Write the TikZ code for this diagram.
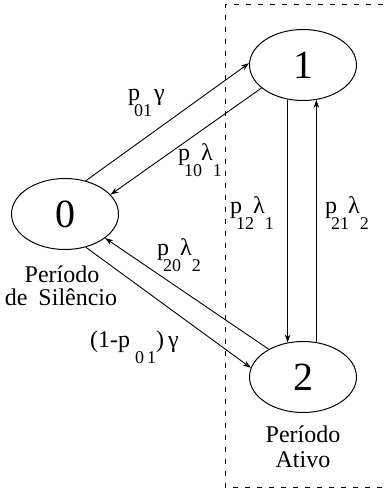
\documentclass[tikz,border=0pt]{standalone}
\usepackage{fontspec}
\setmainfont{Liberation Serif}
\usetikzlibrary{shapes.geometric,arrows.meta}
\newcommand{\sbx}[1]{\raisebox{-16pt}{\fontsize{18}{18}\selectfont #1}}
\begin{document}
\begin{tikzpicture}[x=1pt,y=-1pt,
  state/.style={draw, ellipse, line width=1pt, minimum width=107pt, minimum height=71pt, inner sep=0pt, font=\fontsize{40}{40}\selectfont},
  tr/.style={-{Stealth[length=8pt,width=5.5pt]}, line width=0.9pt},
  lab/.style={font=\fontsize{24}{24}\selectfont, inner sep=0pt, anchor=base west},
  captext/.style={font=\fontsize{24}{24}\selectfont, inner sep=0pt, anchor=base},
  regionbox/.style={dash pattern=on 5pt off 7pt, line width=1pt}]
\useasboundingbox (0,0) rectangle (383,492);
% dashed region
\draw[regionbox] (383,5) -- (225,5) -- (225,487) -- (383,487);
% states
\node[state] (n0) at (65,214) {0};
\node[state] (n1) at (303,65) {1};
\node[state] (n2) at (303,377) {2};
% captions
\node[captext] (c0a) at (62,282) {Período};
\node[captext] (c0b) at (61,305) {de\hspace{5pt} Silêncio};
\node[captext] (c2a) at (303,442) {Período};
\node[captext] (c2b) at (303,467) {Ativo};
% transitions
\draw[tr] (n0.58.6) -- (n1.178);
\draw[tr] (n1.209) -- (n0.23);
\draw[tr] (n1.246) -- (n2.114);
\draw[tr] (n2.69) -- (n1.291);
\draw[tr] (n2.141) -- (n0.329);
\draw[tr] (n0.302) -- (n2.170);
% labels
\node[lab] (l01) at (128,101) {p\kern-6pt\sbx{01}\kern2pt γ};
\node[lab] (l10) at (178,160) {p\kern-6pt\sbx{10}\kern-1pt λ\sbx{1}};
\node[lab] (l12) at (230,213) {p\kern-6pt\sbx{12}\kern-1pt λ\sbx{1}};
\node[lab] (l21) at (325,213) {p\kern-6pt\sbx{21}\kern-1pt λ\sbx{2}};
\node[lab] (l20) at (157,255) {p\kern-6pt\sbx{20}\kern-1pt λ\sbx{2}};
\node[lab] (l02) at (90,347) {(1-p\kern5pt\sbx{0\kern3pt 1})\kern4pt γ};
\end{tikzpicture}
\end{document}
